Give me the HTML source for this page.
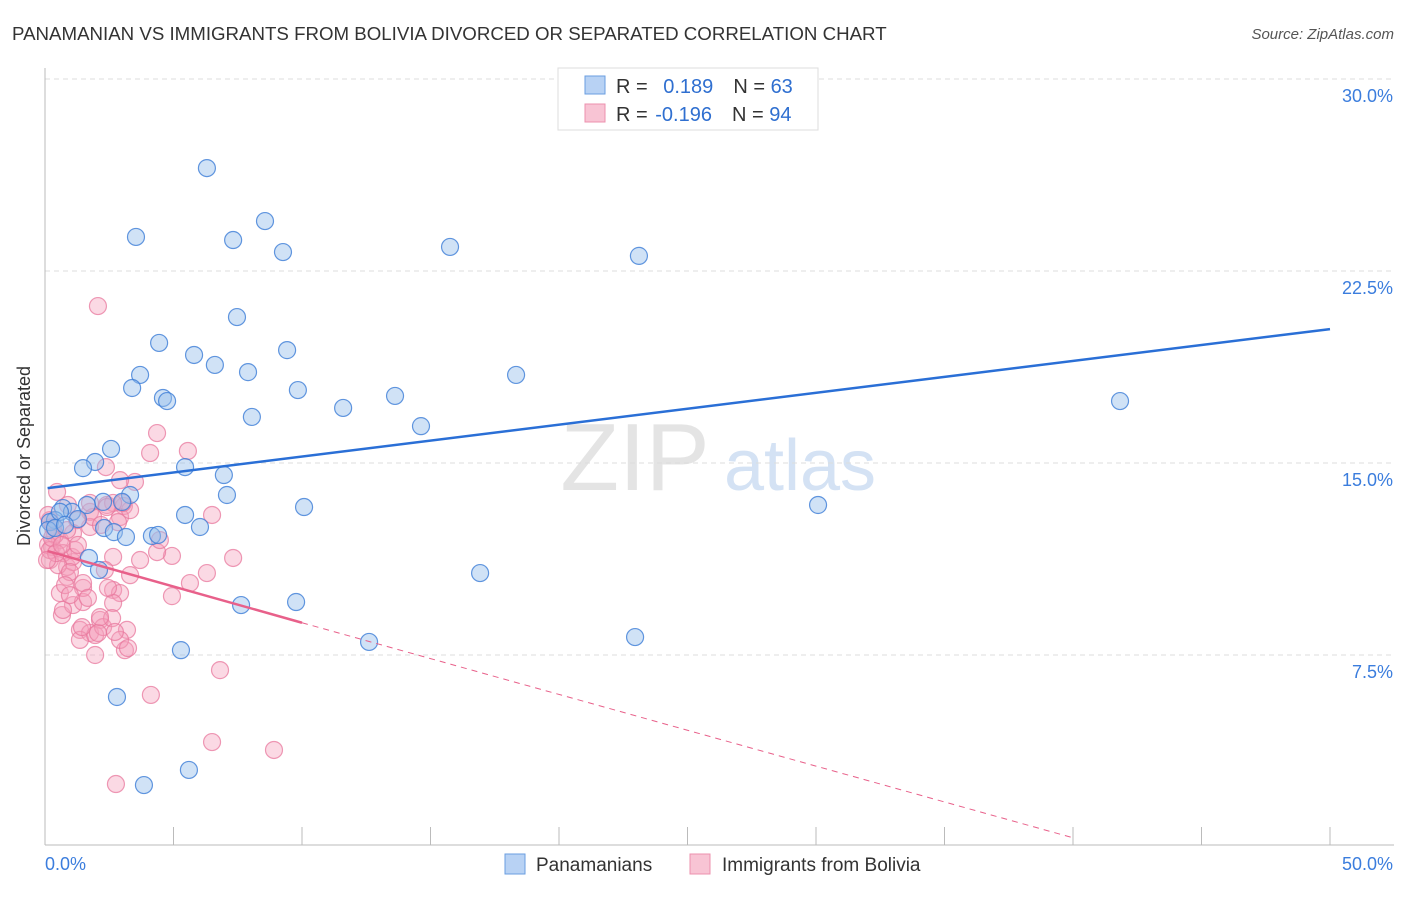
<!DOCTYPE html>
<html><head><meta charset="utf-8"><style>
body{margin:0;background:#fff;font-family:"Liberation Sans",sans-serif;}
svg text{font-family:"Liberation Sans",sans-serif;}
</style></head><body>
<svg id="c" width="1406" height="892">
<text x="12" y="40" font-size="18.7" fill="#333">PANAMANIAN VS IMMIGRANTS FROM BOLIVIA DIVORCED OR SEPARATED CORRELATION CHART</text>
<text x="1394" y="39" font-size="15" fill="#555" font-style="italic" text-anchor="end">Source: ZipAtlas.com</text>
<text x="30" y="456" font-size="18" fill="#333" text-anchor="middle" transform="rotate(-90 30 456)">Divorced or Separated</text>
<text x="635" y="490" font-size="96" fill="#e4e4e4" font-family="Liberation Serif" text-anchor="middle">ZIP</text>
<text x="800" y="490" font-size="72" fill="#d4e2f4" text-anchor="middle">atlas</text>
<g id="grid"></g><g id="axes"></g><g id="pts"></g><g id="lines"></g>
<g>
<rect x="558" y="68" width="260" height="62" fill="#fff" stroke="#ddd"/>
<rect x="585" y="76" width="20" height="18" fill="#b8d2f4" stroke="#6a9ee0"/>
<rect x="585" y="104" width="20" height="18" fill="#f8c4d4" stroke="#ec90ae"/>
<text x="616" y="93" font-size="20" fill="#333">R = <tspan fill="#2f6fd0" dx="10">0.189</tspan><tspan dx="20" fill="#333">N = </tspan><tspan fill="#2f6fd0">63</tspan></text>
<text x="616" y="121" font-size="20" fill="#333">R = <tspan fill="#2f6fd0" dx="2">-0.196</tspan><tspan dx="20" fill="#333">N = </tspan><tspan fill="#2f6fd0">94</tspan></text>
</g>
<g>
<rect x="505" y="854" width="20" height="20" fill="#b8d2f4" stroke="#6a9ee0"/>
<text x="536" y="871" font-size="19" fill="#333">Panamanians</text>
<rect x="690" y="854" width="20" height="20" fill="#f8c4d4" stroke="#ec90ae"/>
<text x="722" y="871" font-size="19" fill="#333">Immigrants from Bolivia</text>
</g>
</svg>
<script>
const yTicks=[7.5,15,22.5,30];
const yTickLabels=["7.5%","15.0%","22.5%","30.0%"];
const xTicks=[0,5,10,15,20,25,30,35,40,45,50];
const xEndLabels=["0.0%","50.0%"];
const blueX=[6.30,3.54,7.32,8.56,9.26,15.76,23.11,7.47,4.44,5.80,6.61,9.42,3.70,7.90,18.33,3.39,4.59,4.75,9.84,13.62,11.60,8.05,14.63,41.83,2.57,1.95,1.48,5.45,6.96,3.31,7.08,2.26,3.00,1.63,0.70,10.08,30.08,5.45,1.05,1.28,0.39,0.19,0.12,2.30,2.68,6.03,4.16,4.40,3.15,1.71,16.93,2.10,7.63,9.77,12.61,5.29,22.96,2.80,5.60,3.85,0.58,0.39,0.78];
const blueY=[26.52,23.83,23.71,24.45,23.24,23.44,23.09,20.70,19.69,19.22,18.83,19.41,18.44,18.55,18.44,17.93,17.54,17.42,17.85,17.62,17.15,16.80,16.44,17.42,15.55,15.04,14.80,14.84,14.53,13.75,13.75,13.48,13.48,13.36,13.24,13.28,13.36,12.97,13.09,12.81,12.77,12.69,12.38,12.46,12.30,12.50,12.15,12.19,12.11,11.29,10.70,10.82,9.45,9.57,8.01,7.69,8.20,5.86,3.01,2.42,13.09,12.46,12.58];
const pinkX=[2.06,4.36,5.56,4.09,2.37,3.50,2.92,0.47,2.41,3.07,6.50,2.92,1.75,4.94,7.32,4.36,3.70,6.30,5.64,3.31,4.94,6.81,4.12,6.50,8.91,2.76,3.19,3.11,1.95,2.14,0.58,0.66,1.09,1.48,1.36,1.75,1.48,2.65,2.92,2.65,1.36,1.95,2.26,0.86,0.86,1.09,0.19,0.27,0.58,1.09,1.75,1.87,1.25,0.31,0.39,0.19,0.86,0.70,1.05,0.51,0.97,2.84,3.31,3.03,2.65,1.75,2.41,1.17,2.65,1.48,0.70,2.06,1.44,2.61,2.14,0.12,0.19,0.27,0.43,0.78,1.67,2.45,2.92,2.72,0.08,0.66,1.28,0.97,2.33,4.47,2.18,0.89,0.12,3.23];
const pinkY=[21.13,16.17,15.47,15.39,14.84,14.26,14.33,13.87,13.36,13.32,12.97,12.89,13.09,11.37,11.29,11.52,11.21,10.70,10.31,10.62,9.80,6.91,5.94,4.10,3.79,2.46,8.48,7.69,7.50,8.87,9.92,9.06,9.45,9.57,8.48,8.36,10.12,10.04,9.92,9.53,8.09,8.28,8.59,10.55,10.94,11.13,11.21,11.72,11.99,12.26,12.50,12.89,12.77,12.50,12.19,12.77,12.38,11.48,11.33,11.01,10.74,12.69,13.16,13.44,13.44,13.44,13.28,11.60,11.33,10.31,9.26,8.36,8.59,8.94,8.98,11.80,11.60,12.07,11.48,10.23,9.73,10.12,8.09,8.40,11.21,11.80,11.80,9.84,10.82,11.99,12.58,13.36,12.97,7.77];
const blueFit=[14.02,20.23];
const pinkFit=[11.56,-0.28];
const X=v=>45+v*1285/50, Y=v=>847-v*192/7.5;
const NS="http://www.w3.org/2000/svg";
function mk(p,t,a){const e=document.createElementNS(NS,t);for(const k in a)e.setAttribute(k,a[k]);document.getElementById(p).appendChild(e);return e;}
yTicks.forEach((t,i)=>{
 const g=mk('grid','line',{x1:45,x2:1394,y1:Y(t),y2:Y(t),stroke:'#ddd','stroke-dasharray':'5,4'});
 
 
 const l=mk('grid','text',{x:1393,y:Y(t)+23,'font-size':18,fill:'#3b7ddd','text-anchor':'end'});l.textContent=yTickLabels[i];
 
 
});
const ax=mk('axes','line',{x1:45,x2:45,y1:68,y2:845,stroke:'#bbb'});


const bx=mk('axes','line',{x1:45,x2:1394,y1:845,y2:845,stroke:'#bbb'});


xTicks.forEach(t=>{const k=mk('axes','line',{x1:X(t),x2:X(t),y1:827,y2:845,stroke:'#bbb'});
 
 });
const l0=mk('axes','text',{x:45,y:870,'font-size':18,fill:'#3b7ddd'});l0.textContent=xEndLabels[0];


const l1=mk('axes','text',{x:1393,y:870,'font-size':18,fill:'#3b7ddd','text-anchor':'end'});l1.textContent=xEndLabels[1];


pinkX.forEach((x,i)=>{const c=mk('pts','circle',{cx:X(x),cy:Y(pinkY[i]),r:8.5,fill:'rgba(244,160,188,0.4)',stroke:'rgba(232,120,158,0.75)','stroke-width':1.2});
 
 });
blueX.forEach((x,i)=>{const c=mk('pts','circle',{cx:X(x),cy:Y(blueY[i]),r:8.5,fill:'rgba(150,190,236,0.45)',stroke:'rgba(60,125,215,0.8)','stroke-width':1.2});
 
 });
const bl=mk('lines','line',{x1:X(0.1),y1:Y(blueFit[0]),x2:X(50),y2:Y(blueFit[1]),stroke:'#2a6fd6','stroke-width':2.5});


const pl=mk('lines','line',{x1:X(0.1),y1:Y(pinkFit[0]),x2:X(10),y2:Y(pinkFit[0]+pinkFit[1]*10),stroke:'#e8608a','stroke-width':2.5});


const pd=mk('lines','line',{x1:X(10),y1:Y(pinkFit[0]+pinkFit[1]*10),x2:X(40),y2:Y(pinkFit[0]+pinkFit[1]*40),stroke:'#e8608a','stroke-width':1,'stroke-dasharray':'6,5'});


</script>
</body></html>
